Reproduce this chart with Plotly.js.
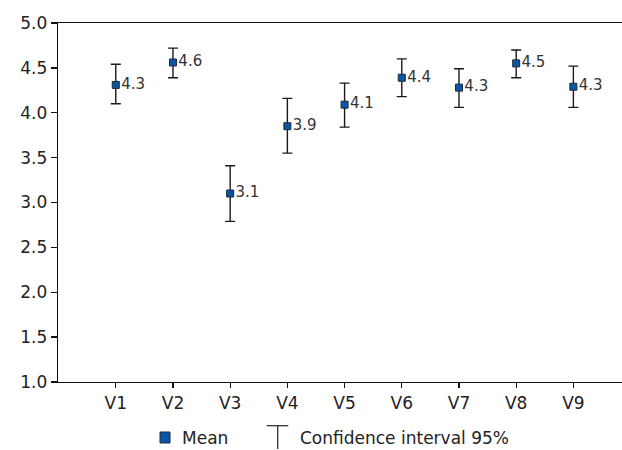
<!DOCTYPE html>
<html>
<head>
<meta charset="utf-8">
<script src="https://cdn.plot.ly/plotly-3.0.1.min.js"></script>
<style>html,body{margin:0;padding:0;background:#fff;}#chart{width:622px;height:450px;}</style>
</head>
<body>
<div id="chart"></div>
<script>
const categories = ["V1","V2","V3","V4","V5","V6","V7","V8","V9"];
const means      = [4.31, 4.56, 3.10, 3.85, 4.09, 4.39, 4.28, 4.55, 4.29];
const ciUpper    = [4.54, 4.72, 3.41, 4.16, 4.33, 4.60, 4.49, 4.70, 4.52];
const ciLower    = [4.10, 4.39, 2.79, 3.55, 3.84, 4.18, 4.06, 4.39, 4.06];
const meanLabels = ["4.3","4.6","3.1","3.9","4.1","4.4","4.3","4.5","4.3"];
const yTicks     = [1.0, 1.5, 2.0, 2.5, 3.0, 3.5, 4.0, 4.5, 5.0];

const errPlus  = ciUpper.map((u, i) => +(u - means[i]).toFixed(3));
const errMinus = ciLower.map((l, i) => +(means[i] - l).toFixed(3));

const FONT = "'DejaVu Sans', sans-serif";

const trace = {
  type: "scatter",
  mode: "markers+text",
  name: "Mean",
  x: categories,
  y: means,
  text: meanLabels,
  textposition: "middle right",
  textfont: {family: FONT, size: 15, color: "#333"},
  cliponaxis: false,
  marker: {symbol: "square", size: 7, color: "#0a56a6", line: {color: "#1b2a3a", width: 1}},
  error_y: {type: "data", symmetric: false, array: errPlus, arrayminus: errMinus,
            color: "#1a1a1a", thickness: 1.4, width: 5},
  showlegend: false,
  hoverinfo: "x+y"
};

const layout = {
  width: 622, height: 450,
  margin: {l: 58, r: 0, t: 23, b: 68},
  paper_bgcolor: "#fff", plot_bgcolor: "#fff",
  font: {family: FONT, color: "#222"},
  showlegend: false,
  xaxis: {
    type: "category", range: [-1.01, 8.85],
    showgrid: false, zeroline: false,
    showline: true, linecolor: "#111", linewidth: 1.3, mirror: true,
    ticks: "outside", ticklen: 5, tickwidth: 1.3, tickcolor: "#111",
    tickfont: {family: FONT, size: 17, color: "#222"}
  },
  yaxis: {
    range: [1.0, 5.0], tickvals: yTicks, ticktext: yTicks.map(v => v.toFixed(1)),
    showgrid: false, zeroline: false,
    showline: true, linecolor: "#111", linewidth: 1.3,
    ticks: "outside", ticklen: 6, tickwidth: 1.3, tickcolor: "#111",
    tickfont: {family: FONT, size: 17, color: "#222"}
  },
  shapes: [
    {type: "rect", xref: "paper", yref: "paper", x0: 0.1809, x1: 0.1986, y0: -0.1699, y1: -0.1393,
     fillcolor: "#0a56a6", line: {color: "#1b2a3a", width: 1}},
    {type: "line", xref: "paper", yref: "paper", x0: 0.3700, x1: 0.4083, y0: -0.1217, y1: -0.1217,
     line: {color: "#333", width: 1.3}},
    {type: "line", xref: "paper", yref: "paper", x0: 0.3895, x1: 0.3895, y0: -0.1217, y1: -0.1866,
     line: {color: "#333", width: 1.3}}
  ],
  annotations: [
    {xref: "paper", yref: "paper", x: 0.2160, y: -0.1546, xanchor: "left", yanchor: "middle",
     text: "Mean", showarrow: false, font: {family: FONT, size: 17, color: "#222"}},
    {xref: "paper", yref: "paper", x: 0.4250, y: -0.1546, xanchor: "left", yanchor: "middle",
     text: "Confidence interval 95%", showarrow: false, font: {family: FONT, size: 17, color: "#222"}}
  ]
};

Plotly.newPlot("chart", [trace], layout, {displayModeBar: false, staticPlot: true});
</script>
</body>
</html>
